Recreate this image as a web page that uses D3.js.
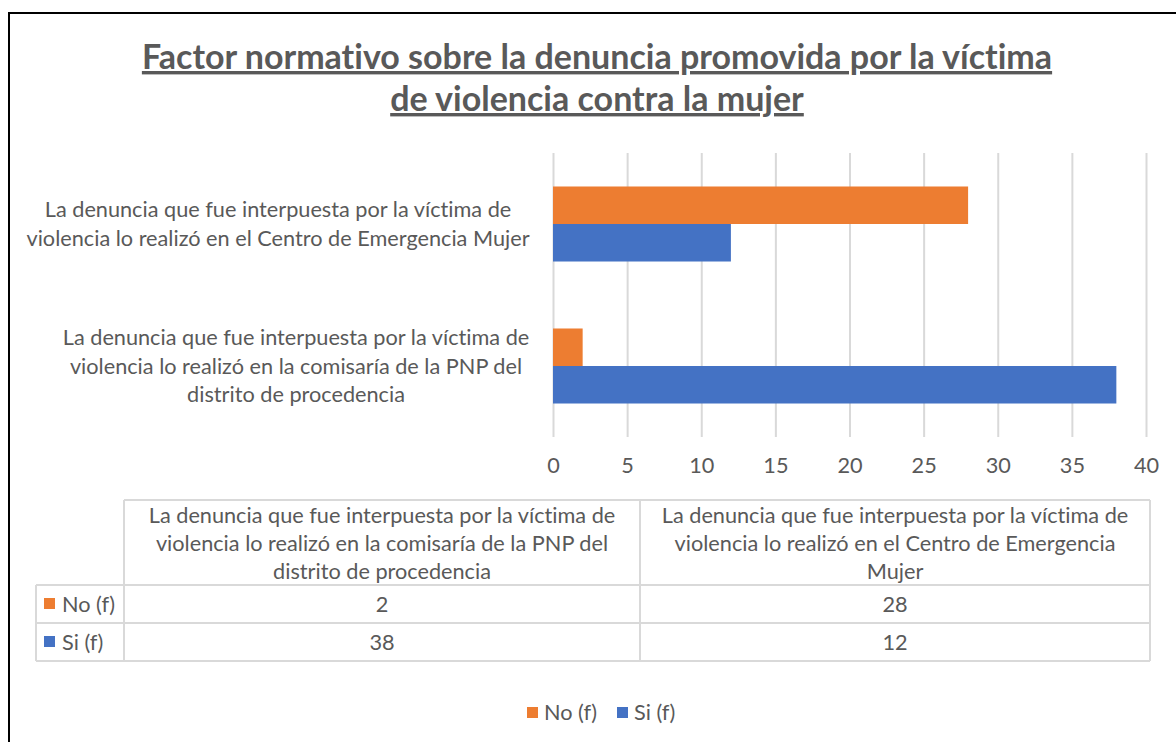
<!DOCTYPE html>
<html>
<head>
<meta charset="utf-8">
<script src="https://cdn.jsdelivr.net/npm/d3@7"></script>
<style>
  html, body { margin: 0; padding: 0; background: #fff; }
  svg { display: block; }
  text { font-family: Lato, "Open Sans", sans-serif; fill: #595959; font-variant-ligatures: none; font-feature-settings: "liga" 0, "clig" 0; }
</style>
</head>
<body>
<svg id="chart" width="1176" height="742"></svg>
<script>
// ---- Data ----
const titleLines = ["Factor normativo sobre la denuncia promovida por la víctima", "de violencia contra la mujer"];
const categories = ["Comisaría PNP", "Centro de Emergencia Mujer"];
const axisLabelLines = [
  ["La denuncia que fue interpuesta por la víctima de", "violencia lo realizó en la comisaría de la PNP del", "distrito de procedencia"],
  ["La denuncia que fue interpuesta por la víctima de", "violencia lo realizó en el Centro de Emergencia Mujer"]
];
const tableHeaderLines = [
  ["La denuncia que fue interpuesta por la víctima de", "violencia lo realizó en la comisaría de la PNP del", "distrito de procedencia"],
  ["La denuncia que fue interpuesta por la víctima de", "violencia lo realizó en el Centro de Emergencia", "Mujer"]
];
const seriesNames = ["No (f)", "Si (f)"];
const noValues = [2, 28];
const siValues = [38, 12];
const xTicks = [0, 5, 10, 15, 20, 25, 30, 35, 40];
const colors = ["#ED7D31", "#4472C4"];

const series = [
  { name: seriesNames[0], values: noValues, color: colors[0] },
  { name: seriesNames[1], values: siValues, color: colors[1] }
];

const FS = "21.7px";
const svg = d3.select("#chart");

// ---- Frame ----
svg.append("path")
  .attr("d", "M9,742 L9,13 L1176,13")
  .attr("fill", "none").attr("stroke", "#000").attr("stroke-width", 2);

// ---- Title ----
const title = svg.append("g");
titleLines.forEach((t, i) => {
  title.append("text")
    .attr("x", 597).attr("y", 69 + i * 42)
    .attr("text-anchor", "middle")
    .style("font-size", "34px").style("font-weight", "bold")
    .style("text-decoration", "underline")
    .text(t);
});

// ---- Scales ----
const x = d3.scaleLinear().domain([0, 40]).range([553, 1146]);
const plotTop = 153, plotBottom = 437;
// first category at bottom (Excel order)
const y0 = d3.scaleBand().domain(categories.slice().reverse()).range([plotTop, plotBottom]);
const y1 = d3.scaleBand().domain(seriesNames).range([0, y0.bandwidth()]).paddingInner(0).paddingOuter(0.893);

// ---- Gridlines ----
const grid = svg.append("g").attr("transform", `translate(0,${plotBottom})`)
  .call(d3.axisBottom(x).tickValues(xTicks).tickSize(-(plotBottom - plotTop)).tickFormat(""));
grid.select(".domain").remove();
grid.selectAll("line").attr("stroke", "#D9D9D9").attr("stroke-width", 2);

// ---- Bars ----
const groups = svg.append("g").selectAll("g")
  .data(categories).join("g")
  .attr("transform", c => `translate(0,${y0(c)})`);
groups.selectAll("rect")
  .data((c, ci) => series.map(s => ({ s, v: s.values[ci] })))
  .join("rect")
  .attr("x", x(0))
  .attr("y", d => y1(d.s.name))
  .attr("width", d => x(d.v) - x(0))
  .attr("height", y1.bandwidth())
  .attr("fill", d => d.s.color);

// ---- X tick labels ----
const xAxis = svg.append("g").attr("transform", `translate(0,${plotBottom})`)
  .call(d3.axisBottom(x).tickValues(xTicks).tickSize(0).tickPadding(21));
xAxis.select(".domain").remove();
xAxis.selectAll("text").style("font-size", FS).style("font-family", "Lato, sans-serif").attr("fill", "#595959");

// ---- Category labels ----
const labelCenters = [296, 278];
categories.forEach((c, ci) => {
  const lines = axisLabelLines[ci];
  const cy = y0(c) + y0.bandwidth() / 2;
  const lh = 28.5;
  const startY = cy - (lines.length - 1) * lh / 2 + 7.5;
  const t = svg.append("text").attr("text-anchor", "middle").style("font-size", FS);
  lines.forEach((l, li) => {
    t.append("tspan").attr("x", labelCenters[ci]).attr("y", startY + li * lh).text(l);
  });
});

// ---- Data table ----
const tbl = svg.append("g");
const colX = [36, 124, 640, 1150];
const rowY = [500, 585, 623, 661];
const lineColor = "#D9D9D9";
function hline(x1, x2, yy) { tbl.append("line").attr("x1", x1).attr("x2", x2).attr("y1", yy).attr("y2", yy).attr("stroke", lineColor).attr("stroke-width", 2); }
function vline(xx, y1_, y2_) { tbl.append("line").attr("x1", xx).attr("x2", xx).attr("y1", y1_).attr("y2", y2_).attr("stroke", lineColor).attr("stroke-width", 2); }
hline(colX[1], colX[3], rowY[0]);
hline(colX[0], colX[3], rowY[1]);
hline(colX[0], colX[3], rowY[2]);
hline(colX[0], colX[3], rowY[3]);
vline(colX[0], rowY[1], rowY[3]);
vline(colX[1], rowY[0], rowY[3]);
vline(colX[2], rowY[0], rowY[3]);
vline(colX[3], rowY[0], rowY[3]);

// header (table column order = category order)
categories.forEach((c, ci) => {
  const cx = (colX[ci + 1] + colX[ci + 2]) / 2;
  const t = tbl.append("text").attr("text-anchor", "middle").style("font-size", FS);
  tableHeaderLines[ci].forEach((l, li) => {
    t.append("tspan").attr("x", cx).attr("y", 523 + li * 28).text(l);
  });
});
// rows
series.forEach((s, si) => {
  const cy = (rowY[si + 1] + rowY[si + 2]) / 2;
  tbl.append("rect").attr("x", 44).attr("y", cy - 6).attr("width", 11).attr("height", 11).attr("fill", s.color);
  tbl.append("text").attr("x", 62).attr("y", cy + 8).style("font-size", FS).text(s.name);
  s.values.forEach((v, ci) => {
    const cx = (colX[ci + 1] + colX[ci + 2]) / 2;
    tbl.append("text").attr("x", cx).attr("y", cy + 8).attr("text-anchor", "middle").style("font-size", FS).text(v);
  });
});

// ---- Legend ----
const legend = svg.append("g");
const legX = [527, 617];
series.forEach((s, si) => {
  legend.append("rect").attr("x", legX[si]).attr("y", 707).attr("width", 11).attr("height", 11).attr("fill", s.color);
  legend.append("text").attr("x", legX[si] + 17).attr("y", 720).style("font-size", FS).text(s.name);
});
</script>
</body>
</html>
